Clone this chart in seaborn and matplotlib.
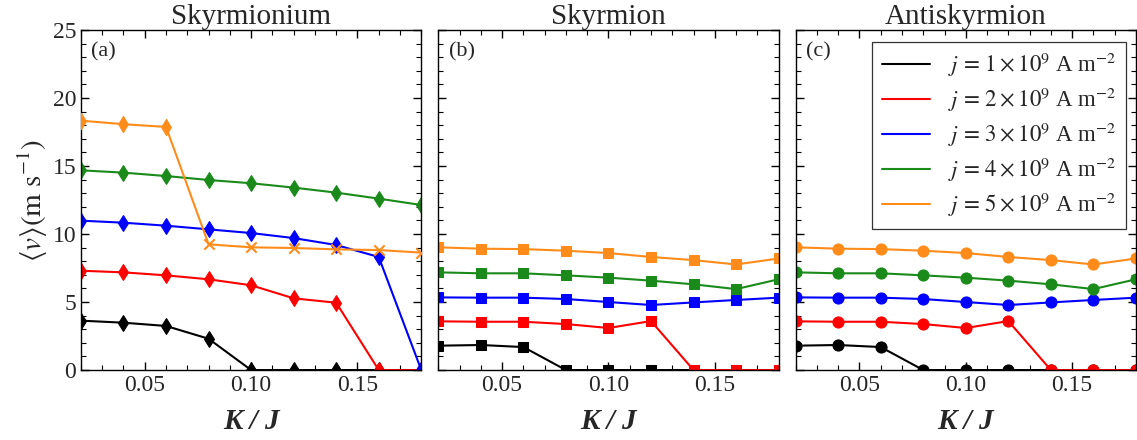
import numpy as np
import pandas as pd
import matplotlib
matplotlib.use("Agg")
import matplotlib.pyplot as plt
import seaborn as sns
from matplotlib.ticker import MultipleLocator
from matplotlib.lines import Line2D

# ====================== data ======================

k_over_j = [0.02, 0.04, 0.06, 0.08, 0.10, 0.12, 0.14, 0.16, 0.18]
currents = [1, 2, 3, 4, 5]
colors = ['black', '#ff0000', '#0000ff', '#1a8a1a', '#ff8c1a']

# Skyrmionium (a)
skm_j1 = [3.63, 3.48, 3.24, 2.30, 0.0, 0.0, 0.0, 0.0, 0.0]
skm_j2 = [7.30, 7.18, 6.96, 6.67, 6.23, 5.27, 4.95, 0.0, 0.0]
skm_j3 = [10.98, 10.83, 10.61, 10.34, 10.07, 9.70, 9.19, 8.31, 0.0]
skm_j4 = [14.68, 14.51, 14.26, 13.97, 13.73, 13.41, 13.04, 12.60, 12.13]
skm_j5 = [18.33, 18.07, 17.87, 9.24, 9.02, 8.97, 8.87, 8.82, 8.63]
skm_j5_marker = ['d', 'd', 'd', 'x', 'x', 'x', 'x', 'x', 'x']

# Skyrmion (b)
sk_j1 = [1.79, 1.84, 1.69, 0.0, 0.0, 0.0, 0.0, 0.0, 0.0]
sk_j2 = [3.58, 3.55, 3.55, 3.38, 3.09, 3.60, 0.0, 0.0, 0.0]
sk_j3 = [5.34, 5.32, 5.32, 5.22, 5.00, 4.78, 4.97, 5.15, 5.32]
sk_j4 = [7.18, 7.11, 7.11, 6.96, 6.79, 6.57, 6.30, 5.95, 6.67]
sk_j5 = [9.02, 8.92, 8.89, 8.77, 8.60, 8.31, 8.08, 7.76, 8.20]

# Antiskyrmion (c)
ask_j1 = [1.79, 1.84, 1.69, 0.0, 0.0, 0.0, 0.0, 0.0, 0.0]
ask_j2 = [3.58, 3.55, 3.55, 3.38, 3.09, 3.60, 0.0, 0.0, 0.0]
ask_j3 = [5.34, 5.32, 5.32, 5.22, 5.00, 4.78, 4.97, 5.15, 5.32]
ask_j4 = [7.18, 7.11, 7.11, 6.96, 6.79, 6.57, 6.30, 5.95, 6.67]
ask_j5 = [9.02, 8.92, 8.89, 8.77, 8.60, 8.31, 8.08, 7.76, 8.20]

panels = [
    ('Skyrmionium', '(a)', 'd', [skm_j1, skm_j2, skm_j3, skm_j4, skm_j5]),
    ('Skyrmion', '(b)', 's', [sk_j1, sk_j2, sk_j3, sk_j4, sk_j5]),
    ('Antiskyrmion', '(c)', 'o', [ask_j1, ask_j2, ask_j3, ask_j4, ask_j5]),
]

# ====================== style ======================

sns.set_style('ticks')
plt.rcParams['font.family'] = ['Liberation Serif', 'DejaVu Serif']
plt.rcParams['mathtext.fontset'] = 'stix'
plt.rcParams['axes.edgecolor'] = 'black'
plt.rcParams['axes.linewidth'] = 1.0

fig, axes = plt.subplots(1, 3, figsize=(11.37, 4.40), dpi=100, sharey=True)
fig.subplots_adjust(left=0.0712, right=0.9991, bottom=0.159, top=0.932, wspace=0.05)

for ax, (title, tag, marker, series) in zip(axes, panels):
    for i, vals in enumerate(series):
        df = pd.DataFrame({'K/J': k_over_j, 'v': vals})
        if title == 'Skyrmionium' and i == 4:
            # orange branch switches marker after the jump
            sns.lineplot(data=df, x='K/J', y='v', color=colors[i], lw=1.5, ax=ax)
            df['m'] = skm_j5_marker
            sns.scatterplot(data=df[df['m'] == 'd'], x='K/J', y='v', marker='d',
                            color=colors[i], s=70, edgecolor=colors[i], ax=ax,
                            legend=False, zorder=3)
            sns.scatterplot(data=df[df['m'] == 'x'], x='K/J', y='v', marker='x',
                            color=colors[i], s=55, linewidth=1.5, ax=ax,
                            legend=False, zorder=3)
        else:
            sns.lineplot(data=df, x='K/J', y='v', color=colors[i], lw=1.5,
                         marker=marker, markersize=8 if marker != 's' else 7,
                         markeredgecolor=colors[i], ax=ax)

    ax.set_xlim(0.02, 0.18)
    ax.set_ylim(0, 25)
    ax.xaxis.set_major_locator(MultipleLocator(0.05))
    ax.xaxis.set_minor_locator(MultipleLocator(0.01))
    ax.yaxis.set_major_locator(MultipleLocator(5))
    ax.yaxis.set_minor_locator(MultipleLocator(1))
    ax.xaxis.set_major_formatter(plt.FuncFormatter(lambda x, pos: f'{x:.2f}'))
    ax.tick_params(which='both', direction='in', top=True, right=True,
                   labelsize=17, color='black')
    ax.tick_params(which='major', length=6, width=1)
    ax.tick_params(which='minor', length=3.5, width=0.8)
    ax.set_title(title, fontsize=21, pad=2)
    ax.set_xlabel('K / J', fontsize=21, style='italic', weight='bold', labelpad=9)
    ax.set_ylabel('')
    ax.text(0.03, 0.965, tag, transform=ax.transAxes, fontsize=16,
            ha='left', va='top')
    for sp in ax.spines.values():
        sp.set_visible(True)
        sp.set_color('black')

axes[0].set_ylabel(r'$\langle v\rangle(\mathrm{m\ s^{-1}})$', fontsize=21, labelpad=2)

handles = [Line2D([], [], color=c, lw=1.5) for c in colors]
labels = [rf'$j\,=\,{cur}\times10^{{9}}$ A m$^{{-2}}$' for cur in currents]
leg = axes[2].legend(handles, labels, loc='upper right', fontsize=16.5, frameon=True,
                     fancybox=False, edgecolor='#333333', framealpha=1,
                     handlelength=2.1, handletextpad=0.8, labelspacing=0.3,
                     borderpad=0.4, borderaxespad=0, bbox_to_anchor=(0.97, 0.965))
leg.get_frame().set_linewidth(0.9)

plt.savefig('out.png', dpi=100)
